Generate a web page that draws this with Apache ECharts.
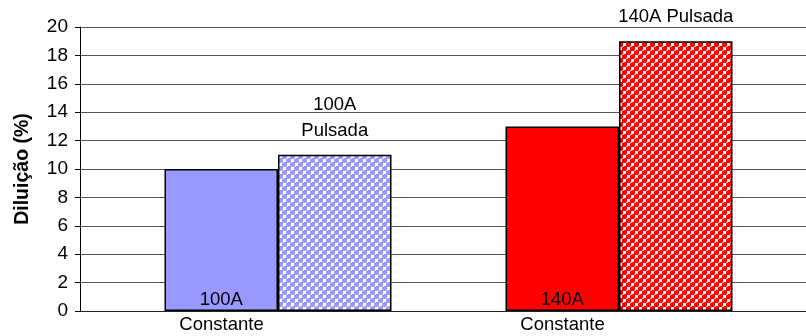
<!DOCTYPE html>
<html>
<head>
<meta charset="utf-8">
<script src="https://cdn.jsdelivr.net/npm/echarts@6/dist/echarts.min.js"></script>
<style>
  html, body { margin: 0; padding: 0; background: #fff; }
  #chart { width: 806px; height: 336px; }
</style>
</head>
<body>
<div id="chart"></div>
<script>
// Current groups and the two welding modes
const categories = ['100A', '140A'];
const axisLabels = ['Constante', 'Constante'];
const constanteValues = [10, 13];
const pulsadaValues = [11, 19];
const constanteLabels = ['100A', '140A'];
const pulsadaLabels = ['100A\nPulsada', '140A Pulsada'];
const groupColors = ['#9999ff', '#ff0000'];
const bubbleHighlights = ['#dcdcff', '#ffc0c0'];
const yTicks = { min: 0, max: 20, interval: 2 };

const FONT = '"Liberation Sans", Arial, sans-serif';

// Bubble-style fill used for the pulsed-current bars:
// staggered round beads with small white squares between them
function bubbleTile(color, light) {
  const c = document.createElement('canvas');
  c.width = 8; c.height = 8;
  const g = c.getContext('2d');
  g.fillStyle = '#ffffff';
  g.fillRect(0, 0, 8, 8);
  const centers = [[4, 4], [0, 0], [8, 0], [0, 8], [8, 8]];
  g.fillStyle = color;
  centers.forEach(([x, y]) => {
    g.beginPath();
    g.arc(x, y, 3.5, 0, Math.PI * 2);
    g.fill();
  });
  // white gaps
  g.fillStyle = '#ffffff';
  [[3, -1], [3, 7], [-1, 3], [7, 3]].forEach(([x, y]) => g.fillRect(x, y, 3, 3));
  // highlights
  g.fillStyle = light;
  centers.forEach(([x, y]) => g.fillRect(x - 2, y - 2, 2, 1));
  return { image: c, repeat: 'repeat' };
}

const chart = echarts.init(document.getElementById('chart'), null, { renderer: 'canvas' });

const textBase = { fontFamily: FONT, fontSize: 18.5, color: '#000' };

chart.setOption({
  animation: false,
  backgroundColor: '#ffffff',
  grid: [
    { left: 80, right: 0, top: 27, bottom: 25 },
    { left: 107.5, width: 682, top: 27, bottom: 25 }
  ],
  xAxis: [
    {
      gridIndex: 0, type: 'value', min: 0, max: 1,
      axisLine: { show: true, lineStyle: { color: '#222', width: 1 } },
      axisTick: { show: false }, axisLabel: { show: false }, splitLine: { show: false }
    },
    {
      gridIndex: 1, type: 'category', data: categories,
      axisLine: { show: false }, axisTick: { show: false }, splitLine: { show: false },
      axisLabel: Object.assign({}, textBase, {
        margin: 4, lineHeight: 20,
        padding: [0, 113, 0, 0],
        formatter: (v, i) => axisLabels[i]
      })
    }
  ],
  yAxis: [
    {
      gridIndex: 0, type: 'value', min: yTicks.min, max: yTicks.max, interval: yTicks.interval,
      name: 'Diluição (%)', nameLocation: 'middle', nameGap: 47,
      nameTextStyle: { fontFamily: FONT, fontSize: 19.5, fontWeight: 'bold', color: '#000' },
      axisLine: { show: true, lineStyle: { color: '#000', width: 1 } },
      axisTick: { show: true, length: 5, lineStyle: { color: '#000' } },
      axisLabel: Object.assign({}, textBase, { fontSize: 19, margin: 12 }),
      splitLine: { show: true, lineStyle: { color: '#555', width: 1 } }
    },
    {
      gridIndex: 1, type: 'value', min: yTicks.min, max: yTicks.max, interval: yTicks.interval,
      show: false, splitLine: { show: false }
    }
  ],
  series: [
    {
      name: 'Constante', type: 'bar', xAxisIndex: 1, yAxisIndex: 1,
      barWidth: 113.5, barGap: '0%',
      data: constanteValues.map((v, i) => ({
        value: v,
        itemStyle: { color: groupColors[i], borderColor: '#000', borderWidth: 1.5 },
        label: Object.assign({}, textBase, {
          show: true, position: 'insideBottom', distance: 2, lineHeight: 18,
          formatter: constanteLabels[i]
        })
      }))
    },
    {
      name: 'Pulsada', type: 'bar', xAxisIndex: 1, yAxisIndex: 1,
      barWidth: 113.5, barGap: '0%',
      data: pulsadaValues.map((v, i) => ({
        value: v,
        itemStyle: { color: bubbleTile(groupColors[i], bubbleHighlights[i]), borderColor: '#000', borderWidth: 1.5 },
        label: Object.assign({}, textBase, {
          show: true, position: 'top', distance: 11, lineHeight: 26,
          formatter: pulsadaLabels[i]
        })
      }))
    }
  ]
});
</script>
</body>
</html>
